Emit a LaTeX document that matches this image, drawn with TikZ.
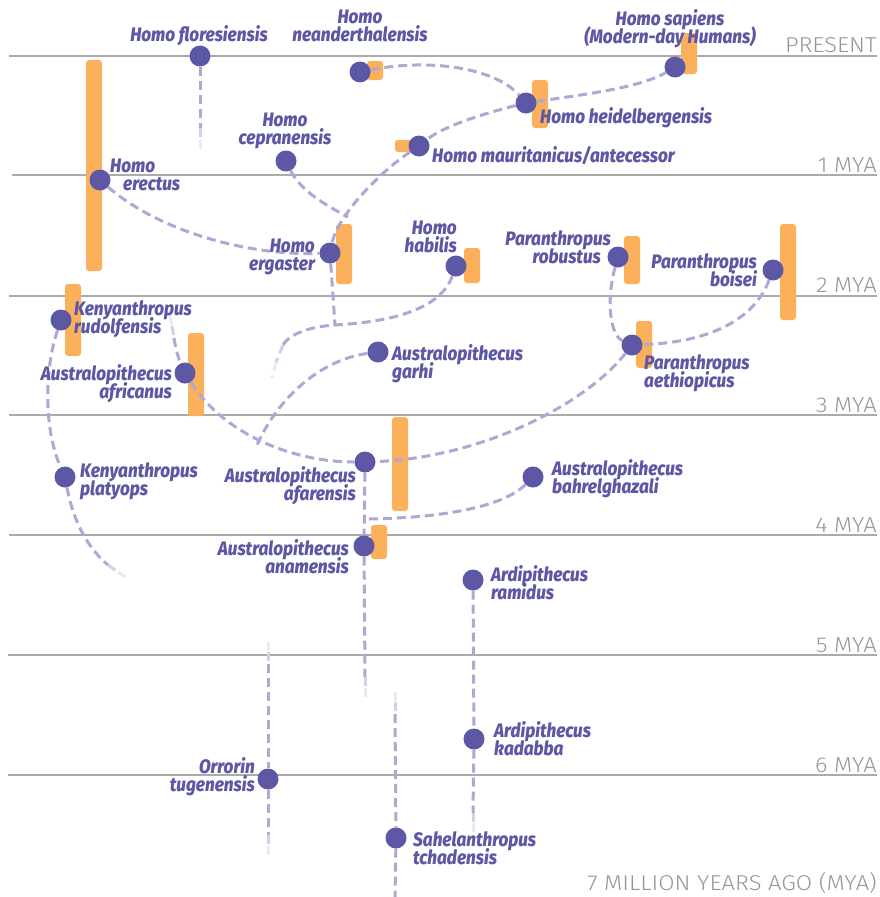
\documentclass[tikz,border=0pt]{standalone}
\usepackage{fontspec}
\setmainfont{Fira Sans}
\newfontfamily\labfont[FakeStretch=0.88, BoldItalicFont={Fira Sans ExtraBold Italic}]{Fira Sans}
\newfontfamily\axfont[FakeStretch=1.1]{Fira Sans Light}
\definecolor{dotc}{HTML}{5D58A5}
\definecolor{barc}{HTML}{FBB05C}
\definecolor{dashc}{HTML}{ADA8D5}
\definecolor{gridc}{HTML}{ABABAB}
\definecolor{axc}{HTML}{979797}
\pgfdeclarelayer{bg}
\pgfdeclarelayer{grid}
\pgfdeclarelayer{bars}
\pgfdeclarelayer{dots}
\pgfdeclarelayer{labels}
\pgfsetlayers{bg,grid,bars,main,dots,labels}
\newcommand\twoL[2]{\vtop{\baselineskip=18pt\lineskiplimit=-100pt\halign{##\hfil\cr #1\cr #2\cr}}}
\newcommand\twoR[2]{\vtop{\baselineskip=18pt\lineskiplimit=-100pt\halign{\hfil##\cr #1\cr #2\cr}}}
\newcommand\twoC[2]{\vtop{\baselineskip=18pt\lineskiplimit=-100pt\halign{\hfil##\hfil\cr #1\cr #2\cr}}}
\tikzset{
  gridline/.style={draw=gridc, line width=1.8pt},
  axlabel/.style={inner sep=0, text=axc, font=\axfont\fontsize{21.5}{21.5}\selectfont, anchor=base east},
  lab/.style={inner sep=0, text=dotc, font=\labfont\bfseries\itshape\fontsize{19.5}{19.5}\selectfont},
  dot/.style={circle, fill=dotc, minimum size=21pt, inner sep=0},
  bar/.style={fill=barc, rounded corners=3pt},
  dashline/.style={draw=dashc, line width=3pt, dash pattern=on 9pt off 5pt},
  tailA/.style={draw=dashc!55!white, line width=3pt, dash pattern=on 9pt off 5pt},
  tailB/.style={draw=dashc!25!white, line width=3pt, dash pattern=on 9pt off 5pt},
}
\begin{document}
\begin{tikzpicture}[x=1pt, y=-1pt]
\useasboundingbox (0,0) rectangle (879,897);
\begin{pgfonlayer}{bg}
\fill[white] (0,0) rectangle (879,897);
\end{pgfonlayer}
% grid
\begin{pgfonlayer}{grid}
\draw[gridline] (9,56) -- (877,56);
\draw[gridline] (12,175) -- (877,175);
\draw[gridline] (9,296) -- (877,296);
\draw[gridline] (9,415) -- (877,415);
\draw[gridline] (9,535) -- (877,535);
\draw[gridline] (8,655) -- (877,655);
\draw[gridline] (8,775) -- (877,775);
\end{pgfonlayer}
\node[axlabel] (axP) at (877,52) {PRESENT};
\node[axlabel] (ax1) at (877,172) {1 MYA};
\node[axlabel] (ax2) at (877,292) {2 MYA};
\node[axlabel] (ax3) at (877,412) {3 MYA};
\node[axlabel] (ax4) at (877,532) {4 MYA};
\node[axlabel] (ax5) at (877,652) {5 MYA};
\node[axlabel] (ax6) at (877,772) {6 MYA};
\node[axlabel] (ax7) at (877,890) {7 MILLION YEARS AGO (MYA)};
% bars
\begin{pgfonlayer}{bars}
\fill[bar] (367,61) rectangle (383,80);
\fill[bar] (681,33) rectangle (697,74);
\fill[bar] (532,80) rectangle (548,128);
\fill[bar] (395,140) rectangle (420,152);
\fill[bar] (86,60) rectangle (102,271);
\fill[bar] (336,224) rectangle (352,284);
\fill[bar] (464,248) rectangle (480,283);
\fill[bar] (624,236) rectangle (640,284);
\fill[bar] (780,224) rectangle (796,320);
\fill[bar] (65,284) rectangle (81,356);
\fill[bar] (188,333) rectangle (204,416);
\fill[bar] (636,321) rectangle (652,368);
\fill[bar] (392,417) rectangle (408,511);
\fill[bar] (371,525) rectangle (387,559);
\end{pgfonlayer}
% dots
\begin{pgfonlayer}{dots}
\node[dot] (flo) at (200,56) {};
\node[dot] (nea) at (360,72) {};
\node[dot] (sap) at (675,67) {};
\node[dot] (hei) at (526,103) {};
\node[dot] (mau) at (419,146) {};
\node[dot] (cep) at (286,161) {};
\node[dot] (ere) at (100,180) {};
\node[dot] (erg) at (330,253) {};
\node[dot] (hab) at (456,266) {};
\node[dot] (rob) at (618,257) {};
\node[dot] (boi) at (773,270) {};
\node[dot] (rud) at (61,320) {};
\node[dot] (afr) at (185,373) {};
\node[dot] (gar) at (378,352) {};
\node[dot] (aet) at (632,345) {};
\node[dot] (afa) at (365,462) {};
\node[dot] (pla) at (65,477) {};
\node[dot] (bah) at (533,477) {};
\node[dot] (ana) at (364,546) {};
\node[dot] (ram) at (473,580) {};
\node[dot] (kad) at (474,739) {};
\node[dot] (orr) at (268,779) {};
\node[dot] (sah) at (396,838) {};
\end{pgfonlayer}
% coordinates
\coordinate (floA) at (200,128);
\coordinate (floB) at (200,140);
\coordinate (floC) at (200,152);
\coordinate (j1) at (348,217);
\coordinate (j2) at (335,325);
\coordinate (habA) at (283,345);
\coordinate (habB) at (276,362);
\coordinate (habC) at (272,378);
\coordinate (j3) at (365,519);
\coordinate (j4) at (257,445);
\coordinate (afrA) at (170,316);
\coordinate (afrB) at (172,326);
\coordinate (afrC) at (174,338);
\coordinate (plaA) at (108,565);
\coordinate (plaB) at (118,572);
\coordinate (plaC) at (127,578);
\coordinate (anaA) at (365,677);
\coordinate (anaB) at (365,688);
\coordinate (anaC) at (365,698);
\coordinate (kadA) at (473,813);
\coordinate (kadB) at (473,823);
\coordinate (kadC) at (473,833);
\coordinate (orrT1) at (268,642);
\coordinate (orrT2) at (268,652);
\coordinate (orrT3) at (268,664);
\coordinate (orrA) at (268,835);
\coordinate (orrB) at (268,846);
\coordinate (orrC) at (268,858);
\coordinate (sahT1) at (395,692);
\coordinate (sahT2) at (395,702);
\coordinate (sahT3) at (395,714);
\coordinate (sahE) at (395,897);
% connectors
\draw[dashline] (flo) -- (floA);
\draw[tailA] (floA) -- (floB);
\draw[tailB] (floB) -- (floC);
\draw[dashline] (nea) .. controls (430,58) and (495,68) .. (hei);
\draw[dashline] (hei) .. controls (580,95) and (640,88) .. (sap);
\draw[dashline] (hei) .. controls (490,112) and (445,125) .. (mau);
\draw[dashline] (mau) .. controls (380,172) and (338,215) .. (erg);
\draw[dashline] (cep) .. controls (300,190) and (325,205) .. (j1);
\draw[dashline] (ere) .. controls (160,232) and (250,256) .. (erg);
\draw[dashline] (erg) -- (j2);
\draw[dashline] (hab) .. controls (440,310) and (390,322) .. (j2) .. controls (305,327) and (288,336) .. (habA);
\draw[tailA] (habA) -- (habB);
\draw[tailB] (habB) -- (habC);
\draw[dashline] (rob) .. controls (606,300) and (610,335) .. (aet);
\draw[dashline] (boi) .. controls (750,330) and (690,343) .. (aet);
\draw[dashline] (aet) .. controls (585,405) and (480,458) .. (afa);
\draw[dashline] (bah) .. controls (505,505) and (450,518) .. (j3);
\draw[dashline] (afr) .. controls (222,432) and (290,462) .. (afa);
\draw[tailB] (afrA) -- (afrB);
\draw[tailA] (afrB) -- (afrC);
\draw[dashline] (afrC) .. controls (176,352) and (180,362) .. (afr);
\draw[dashline] (gar) .. controls (320,360) and (278,398) .. (j4);
\draw[dashline] (rud) .. controls (44,370) and (44,430) .. (pla);
\draw[dashline] (pla) .. controls (74,525) and (90,550) .. (plaA);
\draw[tailA] (plaA) -- (plaB);
\draw[tailB] (plaB) -- (plaC);
\draw[dashline] (afa) -- (ana);
\draw[dashline] (ana) -- (anaA);
\draw[tailA] (anaA) -- (anaB);
\draw[tailB] (anaB) -- (anaC);
\draw[dashline] (ram) -- (kad);
\draw[dashline] (kad) -- (kadA);
\draw[tailA] (kadA) -- (kadB);
\draw[tailB] (kadB) -- (kadC);
\draw[tailB] (orrT1) -- (orrT2);
\draw[tailA] (orrT2) -- (orrT3);
\draw[dashline] (orrT3) -- (orr);
\draw[dashline] (orr) -- (orrA);
\draw[tailA] (orrA) -- (orrB);
\draw[tailB] (orrB) -- (orrC);
\draw[tailB] (sahT1) -- (sahT2);
\draw[tailA] (sahT2) -- (sahT3);
\draw[dashline] (sahT3) -- (sah);
\draw[dashline] (sah) -- (sahE);
% labels
\begin{pgfonlayer}{labels}
\node[lab, anchor=base] (Lflo) at (199,41) {Homo floresiensis};
\node[lab, anchor=base] (Lnea) at (360,23) {\twoC{Homo}{neanderthalensis}};
\node[lab, anchor=base] (Lsap) at (670,25) {\twoC{Homo sapiens}{(Modern-day Humans)}};
\node[lab, anchor=base west] (Lhei) at (540,123) {Homo heidelbergensis};
\node[lab, anchor=base west] (Lmau) at (432,162) {Homo mauritanicus/antecessor};
\node[lab, anchor=base] (Lcep) at (285,126) {\twoC{Homo}{cepranensis}};
\node[lab, anchor=base west] (Lere) at (110,172) {\twoL{Homo}{\hspace*{13pt}erectus}};
\node[lab, anchor=base east] (Lerg) at (315,252) {\twoR{Homo}{ergaster}};
\node[lab, anchor=base east] (Lhab) at (457,234) {\twoR{Homo}{habilis}};
\node[lab, anchor=base east] (Lrob) at (611,245) {\twoR{Paranthropus}{robustus\hspace*{10pt}}};
\node[lab, anchor=base east] (Lboi) at (757,268) {\twoR{Paranthropus}{boisei}};
\node[lab, anchor=base west] (Lrud) at (74,315) {\twoL{Kenyanthropus}{rudolfensis}};
\node[lab, anchor=base east] (Lafr) at (172,380) {\twoR{Australopithecus}{africanus}};
\node[lab, anchor=base west] (Lgar) at (392,360) {\twoL{Australopithecus}{garhi}};
\node[lab, anchor=base west] (Laet) at (644,369) {\twoL{Paranthropus}{aethiopicus}};
\node[lab, anchor=base west] (Lpla) at (80,477) {\twoL{Kenyanthropus}{platyops}};
\node[lab, anchor=base east] (Lafa) at (356,482) {\twoR{Australopithecus}{afarensis}};
\node[lab, anchor=base west] (Lbah) at (552,475) {\twoL{Australopithecus}{bahrelghazali}};
\node[lab, anchor=base east] (Lana) at (349,555) {\twoR{Australopithecus}{anamensis}};
\node[lab, anchor=base west] (Lram) at (491,581) {\twoL{Ardipithecus}{ramidus}};
\node[lab, anchor=base west] (Lkad) at (494,737) {\twoL{Ardipithecus}{kadabba}};
\node[lab, anchor=base east] (Lorr) at (255,773) {\twoR{Orrorin}{tugenensis}};
\node[lab, anchor=base west] (Lsah) at (413,846) {\twoL{Sahelanthropus}{tchadensis}};
\end{pgfonlayer}
\end{tikzpicture}
\end{document}
